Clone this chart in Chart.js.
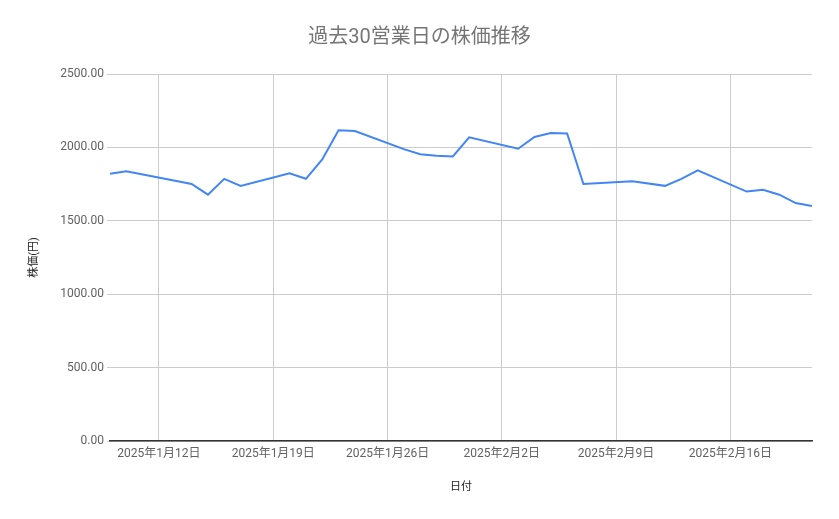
<!DOCTYPE html>
<html lang="ja">
<head>
<meta charset="utf-8">
<title>過去30営業日の株価推移</title>
<script src="https://cdn.jsdelivr.net/npm/chart.js@4.4.1/dist/chart.umd.min.js"></script>
<style>
    html, body { margin: 0; padding: 0; background: #fff; }
    #wrap { width: 839px; height: 519px; }
</style>
</head>
<body>
<div id="wrap"><canvas id="myChart" width="839" height="519"></canvas></div>
<script>
// 営業日（1/13・2/11は祝日のため無し）
const dates = [
    '2025-01-09', '2025-01-10', '2025-01-14', '2025-01-15', '2025-01-16', '2025-01-17',
    '2025-01-20', '2025-01-21', '2025-01-22', '2025-01-23', '2025-01-24',
    '2025-01-27', '2025-01-28', '2025-01-29', '2025-01-30', '2025-01-31',
    '2025-02-03', '2025-02-04', '2025-02-05', '2025-02-06', '2025-02-07',
    '2025-02-10', '2025-02-12', '2025-02-13', '2025-02-14',
    '2025-02-17', '2025-02-18', '2025-02-19', '2025-02-20', '2025-02-21'
];
const prices = [
    1820, 1838, 1751, 1678, 1786, 1738,
    1824, 1786, 1918, 2116, 2112,
    1988, 1953, 1943, 1938, 2069,
    1991, 2071, 2098, 2095, 1751,
    1769, 1738, 1786, 1844,
    1699, 1712, 1678, 1621, 1601
];
const tickDates = ['2025-01-12', '2025-01-19', '2025-01-26', '2025-02-02', '2025-02-09', '2025-02-16'];
const xStart = '2025-01-09';
const xEnd = '2025-02-21';

const DAY = 86400000;
const toDay = s => Date.parse(s + 'T00:00:00Z') / DAY;
const fmtDay = d => {
    const dt = new Date(d * DAY);
    return dt.getUTCFullYear() + '年' + (dt.getUTCMonth() + 1) + '月' + dt.getUTCDate() + '日';
};

const points = dates.map((d, i) => ({ x: toDay(d), y: prices[i] }));

const FONT = "Roboto, 'Noto Sans CJK JP', sans-serif";

const ctx = document.getElementById('myChart').getContext('2d');
const myChart = new Chart(ctx, {
    type: 'line',
    data: {
        datasets: [{
            label: '株価',
            data: points,
            borderColor: '#4285f4',
            backgroundColor: '#4285f4',
            borderWidth: 2,
            pointRadius: 0,
            tension: 0
        }]
    },
    options: {
        responsive: false,
        animation: false,
        layout: { padding: 0 },
        plugins: {
            legend: { display: false },
            tooltip: { enabled: false },
            title: {
                display: true,
                text: '過去30営業日の株価推移',
                color: '#757575',
                font: { family: FONT, size: 20, weight: 'normal' },
                padding: { top: 26, bottom: 24 }
            }
        },
        scales: {
            x: {
                type: 'linear',
                min: toDay(xStart),
                max: toDay(xEnd),
                afterBuildTicks: scale => {
                    scale.ticks = tickDates.map(d => ({ value: toDay(d) }));
                },
                afterFit: scale => { scale.height = 78; },
                ticks: {
                    callback: v => fmtDay(v),
                    color: '#616161',
                    font: { family: FONT, size: 12 },
                    maxRotation: 0,
                    autoSkip: false,
                    padding: 6
                },
                grid: { color: '#cccccc', drawTicks: false },
                border: { display: true, color: '#333333', width: 1.5 },
                title: {
                    display: true,
                    text: '日付',
                    color: '#222222',
                    font: { family: FONT, size: 11 },
                    padding: { top: 0, bottom: 25 }
                }
            },
            y: {
                min: 0,
                max: 2500,
                afterFit: scale => { scale.width = 110; },
                ticks: {
                    stepSize: 500,
                    callback: v => v.toFixed(2),
                    color: '#616161',
                    font: { family: FONT, size: 12 },
                    padding: 3
                },
                grid: { color: '#cccccc', tickLength: 3 },
                border: { display: false },
                title: {
                    display: true,
                    text: '株価(円)',
                    color: '#222222',
                    font: { family: FONT, size: 11 },
                    padding: { top: 28, bottom: 0 }
                }
            },
            // 右余白用の空の軸
            yRight: {
                position: 'right',
                min: 0,
                max: 2500,
                afterFit: scale => { scale.width = 27; },
                ticks: { display: false },
                grid: { display: false },
                border: { display: false }
            }
        }
    }
});
</script>
</body>
</html>
